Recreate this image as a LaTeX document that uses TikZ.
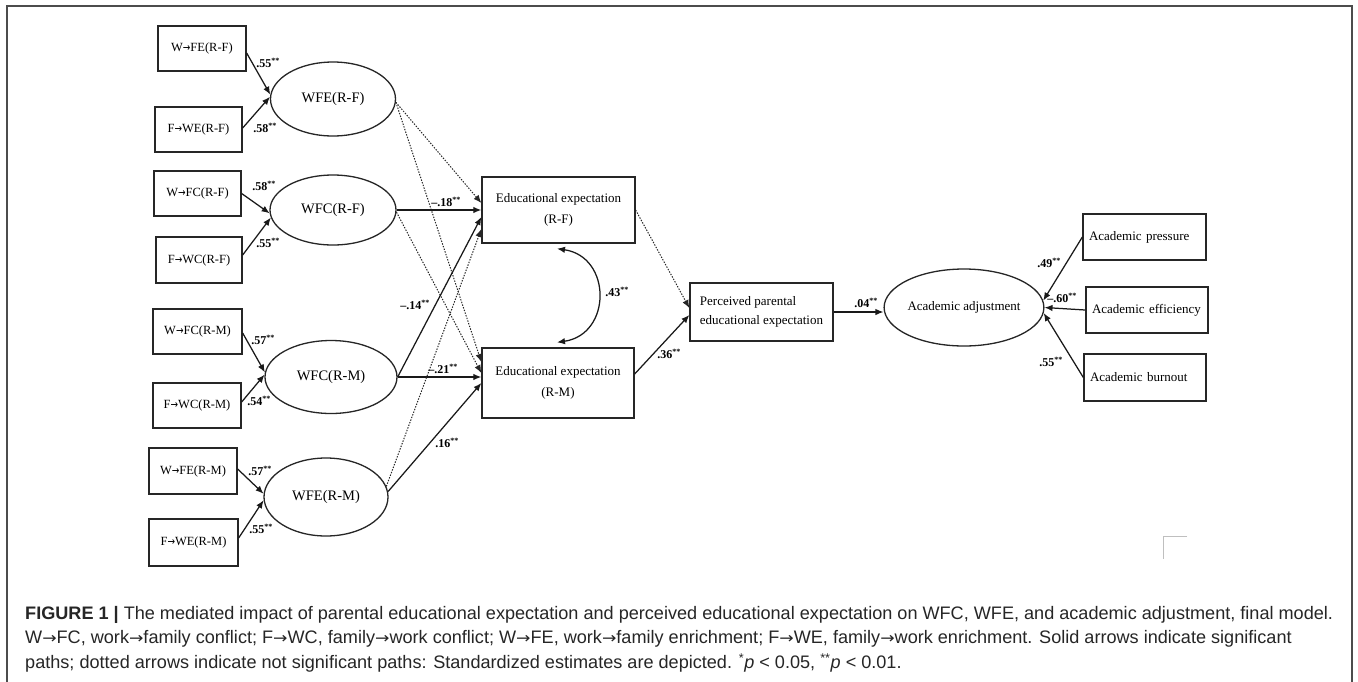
\documentclass[tikz,border=0pt]{standalone}
\usepackage{graphicx}
\usepackage{fontspec}
\setmainfont{Liberation Serif}
\newfontfamily\capfont{Liberation Sans}
\newfontfamily\arrfont{DejaVu Sans}
\usetikzlibrary{arrows.meta,shapes.geometric,calc}
\newcommand\rar{{\arrfont\scalebox{0.72}[0.9]{→}}}
\newcommand\car{{\arrfont\scalebox{0.95}[0.85]{→}}}
\newcommand\sst{\textsuperscript{**}}
\begin{document}
\begin{tikzpicture}[x=1pt,y=-1pt,
  obsb/.style={draw=black!85, line width=1.3pt, inner sep=0pt, font=\fontsize{12.5}{15}\selectfont},
  bigbox/.style={draw=black!85, line width=1.3pt, inner sep=0pt, font=\fontsize{13}{15}\selectfont},
  acbox/.style={draw=black!85, line width=1.3pt, inner xsep=6pt, inner ysep=0pt, align=left, font=\fontsize{13}{15}\selectfont},
  ell/.style={ellipse, draw=black!85, line width=1.3pt, inner sep=0pt, font=\fontsize{14.5}{17}\selectfont},
  sig/.style={draw=black!90, line width=1.25pt, -{Latex[length=8pt,width=6.5pt]}},
  nsig/.style={draw=black!85, line width=1pt, dash pattern=on 1.4pt off 1.4pt, -{Latex[length=8pt,width=6.5pt]}},
  lab/.style={inner sep=0pt, font=\fontsize{12}{14}\selectfont\bfseries},
  captext/.style={inner sep=0pt, anchor=west, text=black!85, font=\capfont\fontsize{18.1}{22}\selectfont}
]
\useasboundingbox[fill=white] (0,0) rectangle (1358,681);
% outer frame
\draw[black!70, line width=1.4pt] (7,720) -- (7,6) -- (1352,6) -- (1352,720);
\draw[black!25, line width=0.8pt] (1187,536) -- (1163,536) -- (1163,559);

% indicator boxes
\node[obsb, minimum width=88pt, minimum height=45pt] (b1) at (202,48.5) {W\rar FE(R-F)};
\node[obsb, minimum width=87pt, minimum height=45pt] (b2) at (198.5,129.5) {F\rar WE(R-F)};
\node[obsb, minimum width=87pt, minimum height=45pt] (b3) at (197.5,193.5) {W\rar FC(R-F)};
\node[obsb, minimum width=86pt, minimum height=46pt] (b4) at (199,260) {F\rar WC(R-F)};
\node[obsb, minimum width=89pt, minimum height=45pt] (b5) at (197.5,331.5) {W\rar FC(R-M)};
\node[obsb, minimum width=88pt, minimum height=45pt] (b6) at (197,405.5) {F\rar WC(R-M)};
\node[obsb, minimum width=88pt, minimum height=46pt] (b7) at (193,471) {W\rar FE(R-M)};
\node[obsb, minimum width=89pt, minimum height=47pt] (b8) at (193.5,542.5) {F\rar WE(R-M)};

% latent ellipses
\node[ell, minimum width=125pt, minimum height=74pt] (e1) at (333,99) {WFE(R-F)};
\node[ell, minimum width=126pt, minimum height=70pt] (e2) at (333,210) {WFC(R-F)};
\node[ell, minimum width=132pt, minimum height=73pt] (e3) at (331,377) {WFC(R-M)};
\node[ell, minimum width=124pt, minimum height=78pt] (e4) at (326,497) {WFE(R-M)};

% middle boxes
\node[bigbox, align=center, minimum width=153pt, minimum height=66pt] (edf) at (558.5,210) {Educational expectation\\[6pt](R-F)};
\node[bigbox, align=center, minimum width=152pt, minimum height=70pt] (edm) at (558,383) {Educational expectation\\[6pt](R-M)};
\node[bigbox, align=left, minimum width=143pt, minimum height=58pt] (perc) at (761.5,312) {Perceived parental\\[4pt]educational expectation};
\node[ell, font=\fontsize{13}{15}\selectfont, minimum width=132pt, minimum height=77pt] (aa) at (964,307.5) {Academic adjustment};
\node[acbox, text width=111pt, minimum height=46pt] (ap) at (1144.5,237) {Academic pressure};
\node[acbox, text width=110pt, minimum height=46pt] (ae) at (1147,310) {Academic efficiency};
\node[acbox, text width=110pt, minimum height=47pt] (ab) at (1145,377.5) {Academic burnout};

% indicator arrows
\draw[sig] ($(b1.east)+(0,4.5)$) -- (e1.176);
\draw[sig] ($(b2.east)+(0,-1.5)$) -- (e1.178);
\draw[sig] (b3.east) -- (e2.183);
\draw[sig] ($(b4.east)+(0,-5)$) -- (e2.187);
\draw[sig] ($(b5.east)+(0,1.5)$) -- (e3.176);
\draw[sig] ($(b6.east)+(0,-3.5)$) -- (e3.178);
\draw[sig] ($(b7.east)+(0,-2)$) -- (e4.177);
\draw[sig] ($(b8.east)+(0,-4.5)$) -- (e4.183);

% structural paths
\draw[nsig] (e1.-3) -- ($(edf.west)+(0,-7)$);
\draw[nsig] (e1.-3) -- ($(edm.west)+(0,-21)$);
\draw[sig] (e2.east) -- (e2.east -| edf.west);
\draw[nsig] (e2.-2) -- ($(edm.west)+(0,-10)$);
\draw[sig] (e3.east) -- ($(edf.west)+(0,7)$);
\draw[sig] (e3.east) -- (e3.east -| edm.west);
\draw[nsig] (e4.10) -- ($(edf.west)+(0,19)$);
\draw[sig] (e4.5) -- (edm.west);

\coordinate (c1) at ($(edf.south)+(-1.5,5)$);
\coordinate (c2) at ($(edm.north)+(-1,-5)$);
\draw[line width=1.25pt, black!90, {Latex[length=8pt,width=6.5pt]}-{Latex[length=8pt,width=6.5pt]}] (c1) .. controls ($(c1)+(55,8)$) and ($(c2)+(55,-8)$) .. (c2);

\draw[nsig] (edf.east) -- ($(perc.west)+(0,-4)$);
\draw[sig] ($(edm.east)+(0,-9)$) -- ($(perc.west)+(0,3)$);
\draw[sig] (perc.east) -- (perc.east -| aa.west);
\draw[sig] (ap.west) -- (aa.5);
\draw[sig] (ae.west) -- (aa.east);
\draw[sig] (ab.west) -- (aa.-4);

% path labels
\node[lab] (l1) at (268,63) {.55\sst};
\node[lab] (l2) at (265,128) {.58\sst};
\node[lab] (l3) at (264,186) {.58\sst};
\node[lab] (l4) at (268,243) {.55\sst};
\node[lab] (l5) at (263,340) {.57\sst};
\node[lab] (l6) at (259,401) {.54\sst};
\node[lab] (l7) at (260,471) {.57\sst};
\node[lab] (l8) at (261,529) {.55\sst};
\node[lab] (l9) at (446,202) {\textendash.18\sst};
\node[lab] (l10) at (443,369) {\textendash.21\sst};
\node[lab] (l11) at (415,305) {\textendash.14\sst};
\node[lab] (l12) at (447,443) {.16\sst};
\node[lab] (l13) at (617,292) {.43\sst};
\node[lab] (l14) at (669,354) {.36\sst};
\node[lab] (l15) at (866,303) {.04\sst};
\node[lab] (l16) at (1049,263) {.49\sst};
\node[lab] (l17) at (1062,298) {\textendash.60\sst};
\node[lab] (l18) at (1051,362) {.55\sst};

% caption
\node[captext] (cap1) at (25,615) {\textbf{FIGURE 1 |} The mediated impact of parental educational expectation and perceived educational expectation on WFC, WFE, and academic adjustment, final model.};
\node[captext] (cap2) at (25,639) {W\car FC, work\car family conflict; F\car WC, family\car work conflict; W\car FE, work\car family enrichment; F\car WE, family\car work enrichment. Solid arrows indicate significant};
\node[captext] (cap3) at (25,663) {paths; dotted arrows indicate not significant paths: Standardized estimates are depicted. \textsuperscript{*}\textit{p} {<} 0.05, \textsuperscript{**}\textit{p} {<} 0.01.};
\end{tikzpicture}
\end{document}
